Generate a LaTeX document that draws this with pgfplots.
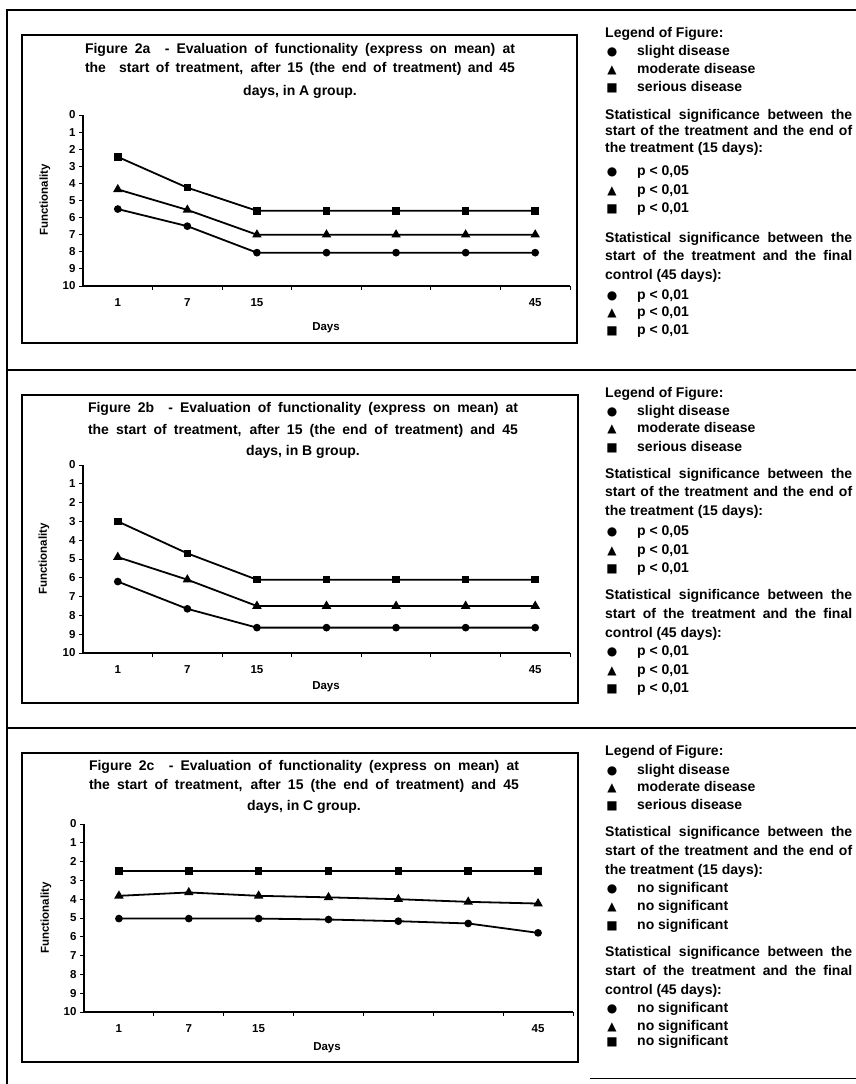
\documentclass[border=0pt]{standalone}
\usepackage{pgfplots}
\usepackage{pgfplotstable}
\pgfplotsset{compat=1.18}
\usepackage{fontspec}
\setmainfont{Liberation Sans}
\newfontfamily\sym{DejaVu Sans}

\pgfplotstableread{
x ser mod sli
1 2.45 4.35 5.5
2 4.25 5.55 6.5
3 5.6 7.0 8.05
4 5.6 7.0 8.05
5 5.6 7.0 8.05
6 5.6 7.0 8.05
7 5.6 7.0 8.05
}\dataA
\pgfplotstableread{
x ser mod sli
1 3.0 4.9 6.2
2 4.7 6.1 7.65
3 6.1 7.5 8.65
4 6.1 7.5 8.65
5 6.1 7.5 8.65
6 6.1 7.5 8.65
7 6.1 7.5 8.65
}\dataB
\pgfplotstableread{
x ser mod sli
1 2.5 3.82 5.03
2 2.5 3.64 5.03
3 2.5 3.82 5.03
4 2.5 3.9 5.08
5 2.5 4.0 5.17
6 2.5 4.14 5.29
7 2.5 4.23 5.79
}\dataC

\pgfplotsset{
  panel/.style={
    scale only axis, width=487pt,
    xmin=0.5, xmax=7.5, ymin=0, ymax=10, y dir=reverse,
    axis x line*=bottom, axis y line*=left,
    axis line style={line width=1.4pt},
    ytick={0,...,10},
    xtick={1.5,2.5,...,7.5}, xticklabels={},
    extra x ticks={1,2,3,7}, extra x tick labels={1,7,15,45},
    extra x tick style={major tick length=0pt},
    tick align=outside, major tick length=4pt,
    tick style={black, line width=1pt},
    /pgf/number format/assume math mode=true,
    ticklabel style={font=\bfseries\fontsize{11.5}{11.5}\selectfont},
    xticklabel style={yshift=-9pt},
    clip=false,
  },
  ser/.style={black, line width=1.8pt, mark=square*, mark size=2.9pt},
  mod/.style={black, line width=1.8pt, mark=triangle*, mark size=3.7pt},
  sli/.style={black, line width=1.8pt, mark=*, mark size=2.9pt},
}

\newcommand{\legtext}[3]{\node[anchor=mid west,inner sep=0pt,font=\bfseries\fontsize{14}{14}\selectfont] at (#1pt,-#2pt) {#3};}
\newcommand{\legjust}[3]{\node[anchor=mid west,inner sep=0pt,font=\bfseries\fontsize{14}{14}\selectfont] at (#1pt,-#2pt) {\makebox[247pt][s]{#3}};}
\newcommand{\legsym}[3]{\node[anchor=mid,inner sep=0pt,font=\sym\fontsize{12}{12}\selectfont] at (612pt,-#1pt) {#2};
  \node[anchor=mid west,inner sep=0pt,font=\bfseries\fontsize{14}{14}\selectfont] at (637pt,-#1pt) {#3};}
\newcommand{\ttl}[3]{\node[inner sep=0pt,font=\bfseries\fontsize{14}{14}\selectfont] at (#1pt,-#2pt) {\makebox[430pt][s]{#3}};}
\newcommand{\ttlc}[3]{\node[inner sep=0pt,font=\bfseries\fontsize{14}{14}\selectfont] at (#1pt,-#2pt) {#3};}

\begin{document}
\begin{tikzpicture}
\clip (0,0) rectangle (856pt,-1084pt);
\fill[white] (0,0) rectangle (856pt,-1084pt);

% outer frame
\draw[line width=2pt] (7pt,-1084pt) -- (7pt,-10pt) -- (856pt,-10pt);
\draw[line width=2pt] (7pt,-370pt) -- (856pt,-370pt);
\draw[line width=2pt] (7pt,-728pt) -- (856pt,-728pt);
\draw[line width=0.8pt] (590pt,-1078pt) -- (856pt,-1078pt);

% inner boxes
\draw[line width=1.5pt] (22pt,-35pt) rectangle (577pt,-343pt);
\draw[line width=1.5pt] (22pt,-395pt) rectangle (578pt,-703pt);
\draw[line width=1.5pt] (22pt,-753pt) rectangle (578pt,-1062pt);

% ---------- Panel A ----------
\begin{axis}[panel, height=171pt, at={(83pt,-286pt)}, anchor=south west]
\addplot[ser] table[x=x,y=ser]{\dataA};
\addplot[mod] table[x=x,y=mod]{\dataA};
\addplot[sli] table[x=x,y=sli]{\dataA};
\end{axis}
\ttl{300}{50}{Figure 2a\ \ - Evaluation of functionality (express on mean) at}
\ttl{300}{69}{the\ \ start of treatment, after 15 (the end of treatment) and 45}
\ttlc{300}{92}{days, in A group.}
\node[font=\bfseries\fontsize{11.5}{11.5}\selectfont, rotate=90] at (45pt,-200pt) {Functionality};
\node[font=\bfseries\fontsize{11.5}{11.5}\selectfont] at (326pt,-328pt) {Days};

\legtext{605}{35}{Legend of Figure:}
\legsym{53}{●}{slight disease}
\legsym{71}{▲}{moderate disease}
\legsym{89}{■}{serious disease}
\legjust{605}{117}{Statistical significance between the}
\legjust{605}{133}{start of the treatment and the end of}
\legtext{605}{150}{the treatment (15 days):}
\legsym{173}{●}{p < 0,05}
\legsym{192}{▲}{p < 0,01}
\legsym{210}{■}{p < 0,01}
\legjust{605}{240}{Statistical significance between the}
\legjust{605}{258}{start of the treatment and the final}
\legtext{605}{277}{control (45 days):}
\legsym{297}{●}{p < 0,01}
\legsym{314}{▲}{p < 0,01}
\legsym{332}{■}{p < 0,01}

% ---------- Panel B ----------
\begin{axis}[panel, height=188pt, at={(83pt,-653pt)}, anchor=south west]
\addplot[ser] table[x=x,y=ser]{\dataB};
\addplot[mod] table[x=x,y=mod]{\dataB};
\addplot[sli] table[x=x,y=sli]{\dataB};
\end{axis}
\ttl{303}{409}{Figure 2b\ \ - Evaluation of functionality (express on mean) at}
\ttl{303}{431}{the start of treatment, after 15 (the end of treatment) and 45}
\ttlc{303}{452}{days, in B group.}
\node[font=\bfseries\fontsize{11.5}{11.5}\selectfont, rotate=90] at (44pt,-559pt) {Functionality};
\node[font=\bfseries\fontsize{11.5}{11.5}\selectfont] at (326pt,-687pt) {Days};

\legtext{605}{395}{Legend of Figure:}
\legsym{413}{●}{slight disease}
\legsym{430}{▲}{moderate disease}
\legsym{449}{■}{serious disease}
\legjust{605}{476}{Statistical significance between the}
\legjust{605}{494}{start of the treatment and the end of}
\legtext{605}{513}{the treatment (15 days):}
\legsym{533}{●}{p < 0,05}
\legsym{552}{▲}{p < 0,01}
\legsym{570}{■}{p < 0,01}
\legjust{605}{597}{Statistical significance between the}
\legjust{605}{616}{start of the treatment and the final}
\legtext{605}{635}{control (45 days):}
\legsym{653}{●}{p < 0,01}
\legsym{672}{▲}{p < 0,01}
\legsym{690}{■}{p < 0,01}

% ---------- Panel C ----------
\begin{axis}[panel, height=188pt, at={(84pt,-1012pt)}, anchor=south west, width=489pt]
\addplot[ser] table[x=x,y=ser]{\dataC};
\addplot[mod] table[x=x,y=mod]{\dataC};
\addplot[sli] table[x=x,y=sli]{\dataC};
\end{axis}
\ttl{304}{767}{Figure 2c\ \ - Evaluation of functionality (express on mean) at}
\ttl{304}{786}{the start of treatment, after 15 (the end of treatment) and 45}
\ttlc{304}{807}{days, in C group.}
\node[font=\bfseries\fontsize{11.5}{11.5}\selectfont, rotate=90] at (46pt,-918pt) {Functionality};
\node[font=\bfseries\fontsize{11.5}{11.5}\selectfont] at (327pt,-1048pt) {Days};

\legtext{605}{753}{Legend of Figure:}
\legsym{772}{●}{slight disease}
\legsym{789}{▲}{moderate disease}
\legsym{807}{■}{serious disease}
\legjust{605}{834}{Statistical significance between the}
\legjust{605}{853}{start of the treatment and the end of}
\legtext{605}{872}{the treatment (15 days):}
\legsym{890}{●}{no significant}
\legsym{908}{▲}{no significant}
\legsym{927}{■}{no significant}
\legjust{605}{954}{Statistical significance between the}
\legjust{605}{973}{start of the treatment and the final}
\legtext{605}{992}{control (45 days):}
\legsym{1010}{●}{no significant}
\legsym{1028}{▲}{no significant}
\legsym{1043}{■}{no significant}
\end{tikzpicture}
\end{document}
